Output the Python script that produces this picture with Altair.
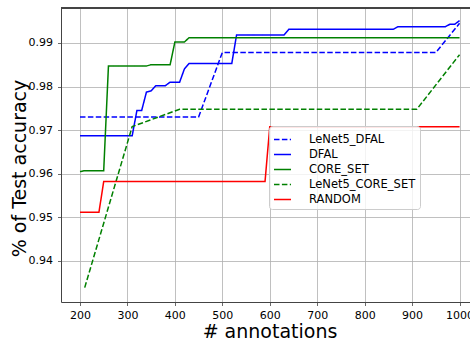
import altair as alt
import pandas as pd

# ---- data ----
series_order = ["LeNet5_DFAL", "DFAL", "CORE_SET", "LeNet5_CORE_SET", "RANDOM"]
series_colors = ["#0000ff", "#0000ff", "#008000", "#008000", "#ff0000"]
series_dash = [[5.5, 2.4], [1, 0], [1, 0], [5.5, 2.4], [1, 0]]

lenet_dfal_x = [200, 450, 500, 950, 1000]
lenet_dfal_y = [0.9730, 0.9730, 0.9878, 0.9878, 0.9945]

dfal_x = [200, 310, 320, 330, 340, 350, 360, 380, 390, 410, 420, 430, 520, 530,
          630, 640, 860, 870, 970, 980, 990, 1000]
dfal_y = [0.9687, 0.9687, 0.9745, 0.9745, 0.9787, 0.9790, 0.9802, 0.9802, 0.9810,
          0.9810, 0.9840, 0.9853, 0.9853, 0.9918, 0.9918, 0.9931, 0.9931, 0.9937,
          0.9937, 0.9943, 0.9943, 0.9951]

core_x = [200, 210, 250, 260, 340, 350, 390, 400, 420, 430, 1000]
core_y = [0.9605, 0.9607, 0.9607, 0.9847, 0.9847, 0.9850, 0.9850, 0.9902, 0.9902,
          0.9912, 0.9912]

lenet_core_x = [210, 310, 410, 910, 1000]
lenet_core_y = [0.9339, 0.9708, 0.9748, 0.9748, 0.9873]

random_x = [200, 240, 250, 590, 600, 1000]
random_y = [0.9512, 0.9512, 0.9582, 0.9582, 0.9708, 0.9708]

x_ticks = [200, 300, 400, 500, 600, 700, 800, 900, 1000]
y_ticks = [0.94, 0.95, 0.96, 0.97, 0.98, 0.99]

rows = []
for name, xs, ys in [
    ("LeNet5_DFAL", lenet_dfal_x, lenet_dfal_y),
    ("DFAL", dfal_x, dfal_y),
    ("CORE_SET", core_x, core_y),
    ("LeNet5_CORE_SET", lenet_core_x, lenet_core_y),
    ("RANDOM", random_x, random_y),
]:
    for i, (a, b) in enumerate(zip(xs, ys)):
        rows.append({"series": name, "x": a, "y": b, "i": i})
df = pd.DataFrame(rows)

FONT = "DejaVu Sans"
W, H = 409, 294

lines = alt.Chart(df).mark_line(strokeWidth=1.5, clip=True).encode(
    x=alt.X("x:Q",
            scale=alt.Scale(domain=[160, 1022], nice=False, zero=False),
            axis=alt.Axis(values=x_ticks, format="d", title="# annotations",
                          titleX=208.5, titleY=35, titleBaseline="alphabetic",
                          titleAlign="center")),
    y=alt.Y("y:Q",
            scale=alt.Scale(domain=[0.9306, 0.9980], nice=False, zero=False),
            axis=alt.Axis(values=y_ticks, format=".2f", title="% of Test accuracy",
                          titleX=-36, titleY=160, titleAngle=270,
                          titleBaseline="alphabetic", titleAlign="center")),
    color=alt.Color("series:N",
                    scale=alt.Scale(domain=series_order, range=series_colors),
                    legend=alt.Legend(title=None)),
    strokeDash=alt.StrokeDash("series:N",
                              scale=alt.Scale(domain=series_order, range=series_dash),
                              legend=alt.Legend(title=None)),
    order="i:Q",
)

top_spine = alt.Chart(df).mark_rule(color="#444", strokeWidth=1).encode(
    x=alt.value(0), x2=alt.value(W), y=alt.value(0)
)

chart = alt.layer(lines, top_spine).properties(
    width=W, height=H,
    autosize=alt.AutoSizeParams(type="none"),
    padding={"left": 61, "top": 8, "right": 0, "bottom": 38},
).configure_view(stroke=None).configure_axis(
    labelFont=FONT, labelFontSize=11, labelColor="#000",
    titleFont=FONT, titleFontSize=19, titleFontWeight="normal", titleColor="#000",
    domainColor="#444", domainWidth=1,
    tickColor="#444", tickWidth=0.8, tickSize=3.5,
    gridColor="#b0b0b0", gridWidth=0.8, grid=True,
    labelPadding=4,
).configure_axisY(labelPadding=5).configure_legend(
    orient="none", legendX=208, legendY=118,
    symbolType="stroke", symbolStrokeWidth=1.5, symbolSize=289,
    labelFont=FONT, labelFontSize=11.5, labelColor="#000",
    labelOffset=17, rowPadding=0, padding=4,
    strokeColor="#cccccc", fillColor="rgba(255,255,255,0.8)", cornerRadius=3,
    labelLimit=300,
)

chart.save("out.html", embed_options={"renderer": "svg", "actions": False})
